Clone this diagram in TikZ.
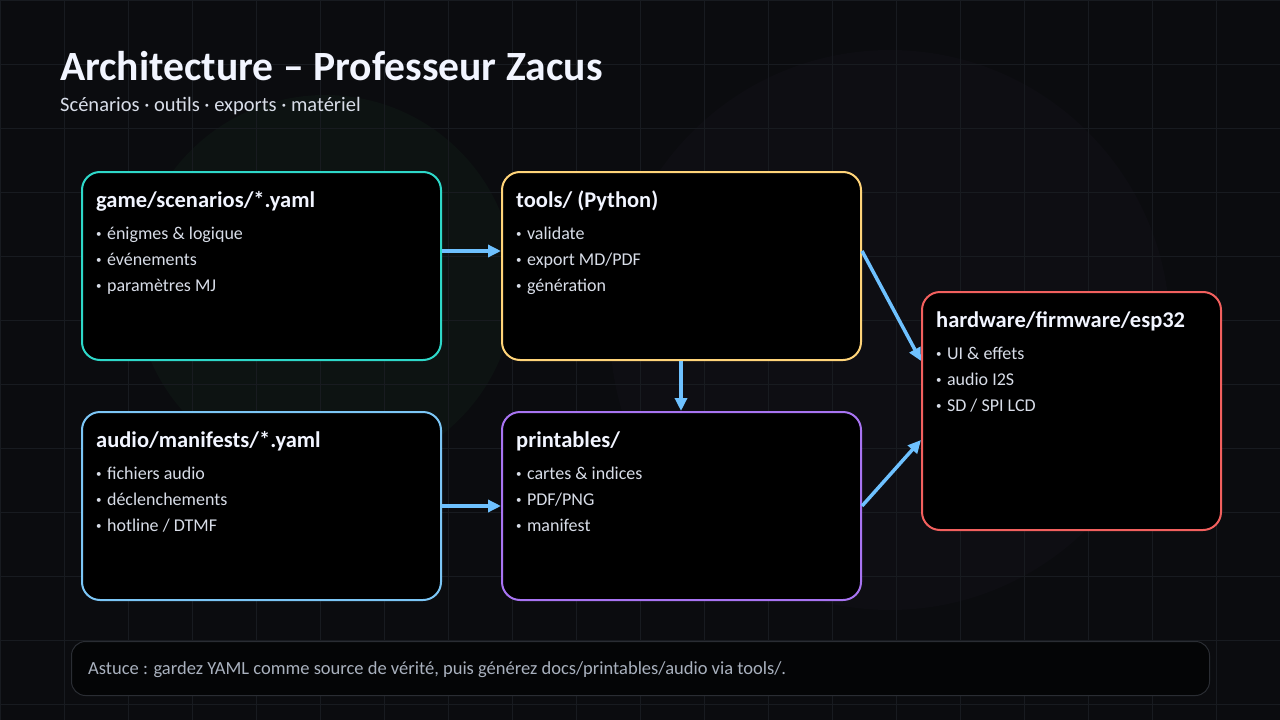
\documentclass[tikz,border=0pt]{standalone}
\usepackage{fontspec}
\setmainfont{Carlito}
\usetikzlibrary{arrows.meta,calc}
\definecolor{bg}{HTML}{0B0C0F}
\definecolor{gridc}{HTML}{181B20}
\definecolor{cyanc}{HTML}{2ED8C9}
\definecolor{yellowc}{HTML}{FFD479}
\definecolor{bluec}{HTML}{7CC6F6}
\definecolor{purplec}{HTML}{A874F2}
\definecolor{redc}{HTML}{F2605E}
\definecolor{arrowc}{HTML}{6EC1FF}
\definecolor{titlec}{HTML}{F2F5FF}
\definecolor{bulletc}{HTML}{D8DDE8}
\definecolor{tipc}{HTML}{A9B1BE}
\definecolor{tipborder}{HTML}{2A2D33}
\definecolor{glowa}{HTML}{0D1312}
\definecolor{glowb}{HTML}{0E0E13}
\newcommand{\bt}{{\fontsize{11}{11}\selectfont\raisebox{0.25ex}{•}}\hspace{0.3em}}
\begin{document}
\begin{tikzpicture}[x=1pt,y=-1pt,
  card/.style={draw=#1,line width=2pt,fill=black,rounded corners=18pt,anchor=north west,inner sep=0pt},
  cardtitle/.style={anchor=base west,inner sep=0pt,text=titlec,font=\fontsize{22.5}{26}\selectfont\bfseries},
  bul/.style={anchor=base west,inner sep=0pt,text=bulletc,font=\fontsize{18}{20}\selectfont},
  flow/.style={draw=arrowc,line width=3.5pt,-{Triangle[length=13pt,width=12pt]}},
]
\useasboundingbox (0,0) rectangle (1280,720);
\fill[bg] (0,0) rectangle (1280,720);
\fill[glowb] (890,330) circle (280);
\fill[glowa] (325,285) circle (190);
\foreach \gx in {0,64,...,1280} \draw[gridc,line width=0.8pt] (\gx,0) -- (\gx,720);
\foreach \gy in {0,64,...,720} \draw[gridc,line width=0.8pt] (0,\gy) -- (1280,\gy);

% title
\node[anchor=base west,inner sep=0pt,text=titlec,font=\fontsize{41.6}{46}\selectfont\bfseries] (title) at (60,80) {Architecture – Professeur Zacus};
\node[anchor=base west,inner sep=0pt,text=bulletc,font=\fontsize{20.5}{24}\selectfont] (subtitle) at (60,111) {Scénarios · outils · exports · matériel};

% cards
\node[card=cyanc,minimum width=359pt,minimum height=188pt] (game) at (81,171) {};
\node[card=yellowc,minimum width=359pt,minimum height=188pt] (tools) at (501,171) {};
\node[card=bluec,minimum width=359pt,minimum height=188pt] (audio) at (81,411) {};
\node[card=purplec,minimum width=359pt,minimum height=188pt] (print) at (501,411) {};
\node[card=redc,minimum width=299pt,minimum height=238pt] (hw) at (921,291) {};

\node[cardtitle] (gameT) at (96,207) {game/scenarios/*.yaml};
\node[bul] (gameA) at (96,239) {\bt énigmes \& logique};
\node[bul] (gameB) at (96,265) {\bt événements};
\node[bul] (gameC) at (96,291) {\bt paramètres MJ};

\node[cardtitle] (toolsT) at (516,207) {tools/ (Python)};
\node[bul] (toolsA) at (516,239) {\bt validate};
\node[bul] (toolsB) at (516,265) {\bt export MD/PDF};
\node[bul] (toolsC) at (516,291) {\bt génération};

\node[cardtitle] (audioT) at (96,447) {audio/manifests/*.yaml};
\node[bul] (audioA) at (96,479) {\bt fichiers audio};
\node[bul] (audioB) at (96,505) {\bt déclenchements};
\node[bul] (audioC) at (96,531) {\bt hotline / DTMF};

\node[cardtitle] (printT) at (516,447) {printables/};
\node[bul] (printA) at (516,479) {\bt cartes \& indices};
\node[bul] (printB) at (516,505) {\bt PDF/PNG};
\node[bul] (printC) at (516,531) {\bt manifest};

\node[cardtitle] (hwT) at (936,327) {hardware/firmware/esp32};
\node[bul] (hwA) at (936,359) {\bt UI \& effets};
\node[bul] (hwB) at (936,385) {\bt audio I2S};
\node[bul] (hwC) at (936,411) {\bt SD / SPI LCD};

% arrows
\draw[flow] (game.east |- 0,251) -- (tools.west |- 0,251);
\draw[flow] (audio.east |- 0,506) -- (print.west |- 0,506);
\draw[flow] (tools.south -| 681,0) -- (print.north -| 681,0);
\draw[flow] (tools.east |- 0,251) -- (hw.west |- 0,361);
\draw[flow] (print.east |- 0,506) -- (hw.west |- 0,440);

% tip
\node[draw=tipborder,line width=1pt,fill=black!60!bg,rounded corners=14pt,anchor=north west,inner sep=0pt,minimum width=1138pt,minimum height=54pt] (tip) at (71,641) {};
\node[anchor=base west,inner sep=0pt,text=tipc,font=\fontsize{18.5}{21}\selectfont] (tipT) at (88,674) {Astuce : gardez YAML comme source de vérité, puis générez docs/printables/audio via tools/.};
\end{tikzpicture}
\end{document}
